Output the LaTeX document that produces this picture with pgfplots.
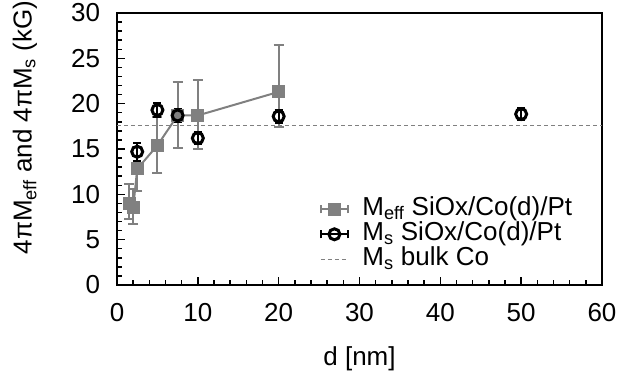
\documentclass[border=0pt]{standalone}
\usepackage{pgfplots}
\pgfplotsset{compat=1.18}
\usepackage{fontspec}
\setmainfont{Liberation Sans}
\definecolor{mgray}{RGB}{128,128,128}
\pgfplotstableread{
d    v     ep   em
1.5  9.0   2.1  1.7
2.0  8.5   2.1  1.8
2.5  12.8  2.4  2.4
5.0  15.4  3.1  3.1
7.5  18.7  3.7  3.6
10.0 18.7  3.9  3.7
20.0 21.3  5.2  3.9
}\meff
\pgfplotstableread{
d    v     e
2.5  14.7  1.0
5.0  19.3  0.8
7.5  18.7  0.7
10.0 16.2  0.7
20.0 18.6  0.7
50.0 18.85 0.7
}\ms
\pgfplotsset{
  ebleg/.style={legend image code/.code={
    \draw[line width=2bp, mark=none, solid] (0bp,-4bp) -- (0bp,4bp) (0bp,0bp) -- (27bp,0bp) (27bp,-4bp) -- (27bp,4bp);
    \path[mark repeat=2, mark phase=2] plot coordinates {(0bp,0bp) (13.5bp,0bp) (27bp,0bp)};
  }},
}
\begin{document}
\fontsize{26bp}{31bp}\selectfont
\begin{tikzpicture}
\begin{axis}[
  scale only axis, width=485bp, height=272bp,
  xmin=0, xmax=60, ymin=0, ymax=30,
  xtick={0,10,...,60}, ytick={0,5,...,30},
  minor x tick num=4, minor y tick num=4,
  tick align=inside, xtick pos=bottom, ytick pos=left,
  axis line style={line width=2.5bp},
  every tick/.style={black, line width=1.5bp},
  major tick length=8bp, minor tick length=5bp,
  /pgf/number format/assume math mode=true,
  yticklabel style={xshift=-8bp},
  xticklabel style={yshift=-9bp},
  xlabel={d [nm]},
  xlabel style={at={(axis description cs:0.5,0)}, anchor=base, yshift=-80bp},
  ylabel={4πM\textsubscript{eff} and 4πM\textsubscript{s} (kG)},
  ylabel style={at={(axis description cs:-0.176,0.579)}, anchor=base, rotate=0},
  legend style={draw=none, fill=none, inner sep=0pt, column sep=13bp,
    at={(rel axis cs:0.418,0.325)}, anchor=north west,
    nodes={inner sep=0.5bp, text height=18bp, text depth=6bp, anchor=west}},
  legend cell align=left,
]
\coordinate (sw) at (rel axis cs:0,0);
\addplot[mgray, line width=2bp, mark=square*, mark size=5.5bp, ebleg,
  error bars/.cd, y dir=both, y explicit,
  error bar style={line width=2bp, mgray},
  error mark options={rotate=90, mgray, line width=2bp, mark size=5bp},
  ]
  table[x=d, y=v, y error plus=ep, y error minus=em] {\meff};
\addlegendentry{M\textsubscript{eff} SiOx/Co(d)/Pt}
\addplot[black, only marks, line width=3bp, mark=o, mark size=5.5bp, ebleg,
  error bars/.cd, y dir=both, y explicit,
  error bar style={line width=2bp, black},
  error mark options={rotate=90, black, line width=2bp, mark size=4bp},
  ]
  table[x=d, y=v, y error=e] {\ms};
\addlegendentry{M\textsubscript{s} SiOx/Co(d)/Pt}
\addplot[mgray, line width=1.5bp, dash pattern=on 4bp off 3bp,
  legend image code/.code={\draw (0bp,0bp) -- (27bp,0bp);}]
  coordinates {(0,17.6) (60,17.6)};
\addlegendentry{M\textsubscript{s} bulk Co}
\end{axis}
\pgfresetboundingbox
\path (sw) ++(-117bp,-87bp) rectangle ++(620bp,372bp);
\end{tikzpicture}
\end{document}
